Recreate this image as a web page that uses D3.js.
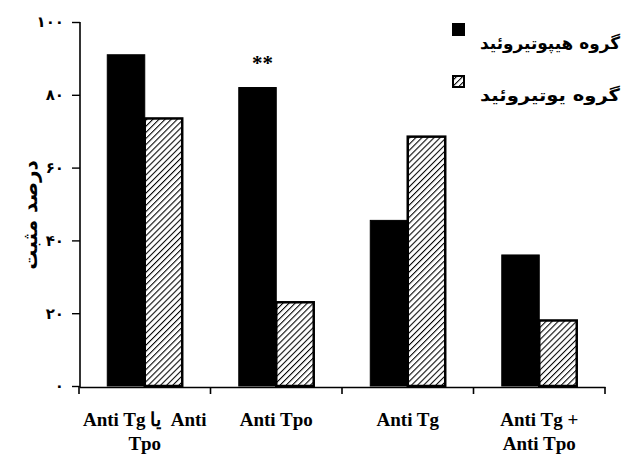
<!DOCTYPE html>
<html>
<head>
<meta charset="utf-8">
<script src="https://cdn.jsdelivr.net/npm/d3@7"></script>
<style>
  body { margin: 0; background: #fff; }
</style>
</head>
<body>
<div id="chart"></div>
<script>
//data
var categories = ["anyAb", "tpo", "tg", "both"];
var labelLines = [["Anti Tg یا  Anti", "Tpo"], ["Anti Tpo"], ["Anti Tg"], ["Anti Tg +", "Anti Tpo"]];
var hypoValues = [91, 82, 45.5, 36];
var euValues = [73.5, 23, 68.5, 18];
var seriesNames = ["گروه هیپوتیروئید", "گروه یوتیروئید"];
var yTicks = [0, 20, 40, 60, 80, 100];
var yTickLabels = ["۰", "۲۰", "۴۰", "۶۰", "۸۰", "۱۰۰"];

(function(){

  var width = 625;
  var height = 458;

  var svg = d3.select("#chart")
    .append("svg")
    .attr("width", width)
    .attr("height", height)

  //hatch pattern for the euthyroid bars
  var defs = svg.append("defs")
  defs.append("pattern")
    .attr("id", "hatch")
    .attr("patternUnits", "userSpaceOnUse")
    .attr("width", 4.3)
    .attr("height", 4.3)
    .attr("patternTransform", "rotate(45)")
    .append("line")
    .attr("x1", 0).attr("y1", 0)
    .attr("x2", 0).attr("y2", 4.3)
    .attr("stroke", "#000")
    .attr("stroke-width", 2.1)

  var x0 = d3.scaleBand()
    .domain(categories)
    .range([79, 605])
    .paddingInner(0.43)
    .paddingOuter(0.215)

  var x1 = d3.scaleBand()
    .domain([0, 1])
    .range([0, x0.bandwidth()])

  var y = d3.scaleLinear()
    .domain([0, 100])
    .range([386, 22])

  var rows = categories.map(function(c, i){
    return {cat: c, values: [hypoValues[i], euValues[i]]}
  })

  //bars
  var groups = svg.selectAll(".group")
    .data(rows)
    .enter().append("g")
    .attr("class", "group")
    .attr("transform", function(d){ return "translate(" + x0(d.cat) + ",0)" })

  groups.selectAll("rect")
    .data(function(d){ return d.values.map(function(v, k){ return {k: k, v: v} }) })
    .enter().append("rect")
    .attr("x", function(d){ return x1(d.k) })
    .attr("width", x1.bandwidth())
    .attr("y", function(d){ return y(d.v) })
    .attr("height", function(d){ return y(0) - y(d.v) })
    .attr("fill", function(d){ return d.k == 0 ? "#000" : "url(#hatch)" })
    .attr("stroke", "#000")
    .attr("stroke-width", function(d){ return d.k == 0 ? 1 : 2.5 })

  //significance mark over the Anti Tpo hypothyroid bar
  svg.append("text")
    .attr("x", x0("tpo") + x1(0) + x1.bandwidth() / 2 + 5)
    .attr("y", y(82) - 18)
    .attr("text-anchor", "middle")
    .attr("font-family", "Liberation Serif")
    .attr("font-weight", "bold")
    .attr("font-size", 21)
    .text("**")

  //y axis
  var yAxis = d3.axisLeft(y)
    .tickValues(yTicks)
    .tickSize(8)
    .tickFormat(function(d, i){ return yTickLabels[i] })

  var gy = svg.append("g")
    .attr("transform", "translate(80,0)")
    .call(yAxis)
  gy.select(".domain").attr("stroke-width", 1.6).attr("d", "M0,22V387")
  gy.selectAll(".tick line").attr("stroke-width", 1.4)
  gy.selectAll(".tick text")
    .attr("x", -16)
    .attr("font-family", "DejaVu Sans")
    .attr("font-weight", "bold")
    .attr("font-size", 15)
    .attr("fill", "#000")

  //x axis
  var xAxis = d3.axisBottom(x0)
    .tickValues([])
    .tickSizeOuter(0)

  var gx = svg.append("g")
    .attr("transform", "translate(0,387)")
    .call(xAxis)
  gx.select(".domain").attr("stroke-width", 1.6)

  //ticks between the categories
  var edges = categories.map(function(c){ return x0(c) - x0.step() * x0.paddingInner() / 2 })
  edges.push(x0.range()[1])
  gx.selectAll(".edge")
    .data(edges)
    .enter().append("line")
    .attr("class", "edge")
    .attr("x1", function(d){ return d }).attr("x2", function(d){ return d })
    .attr("y1", 0).attr("y2", 7)
    .attr("stroke", "#000")
    .attr("stroke-width", 1.6)

  //category labels
  var labels = svg.selectAll(".xlabel")
    .data(categories)
    .enter().append("text")
    .attr("class", "xlabel")
    .attr("text-anchor", "middle")
    .attr("font-family", "Liberation Serif")
    .attr("font-weight", "bold")
    .attr("font-size", 19)
    .attr("xml:space", "preserve")
    .attr("transform", function(d){ return "translate(" + (x0(d) + x0.bandwidth() / 2) + ",426)" })

  labels.selectAll("tspan")
    .data(function(d, i){ return labelLines[i] })
    .enter().append("tspan")
    .attr("x", 0)
    .attr("y", function(d, i){ return i * 24 })
    .text(function(d){ return d })

  //y axis title
  svg.append("text")
    .attr("transform", "translate(37,215) rotate(-90)")
    .attr("text-anchor", "middle")
    .attr("font-family", "DejaVu Sans")
    .attr("font-weight", "bold")
    .attr("font-size", 20)
    .text("درصد مثبت")

  //legend
  var legend = svg.selectAll(".legend")
    .data(seriesNames)
    .enter().append("g")
    .attr("class", "legend")
    .attr("transform", function(d, i){ return "translate(0," + (i * 52) + ")" })

  legend.append("rect")
    .attr("x", 453)
    .attr("y", 24)
    .attr("width", 11)
    .attr("height", 11)
    .attr("fill", function(d, i){ return i == 0 ? "#000" : "url(#hatch)" })
    .attr("stroke", "#000")
    .attr("stroke-width", 2)

  legend.append("text")
    .attr("x", 480)
    .attr("y", 49)
    .attr("text-anchor", "start")
    .attr("font-family", "DejaVu Sans")
    .attr("font-weight", "bold")
    .attr("font-size", 17)
    .attr("textLength", 140)
    .attr("lengthAdjust", "spacingAndGlyphs")
    .text(function(d){ return d })

})();
</script>
</body>
</html>
